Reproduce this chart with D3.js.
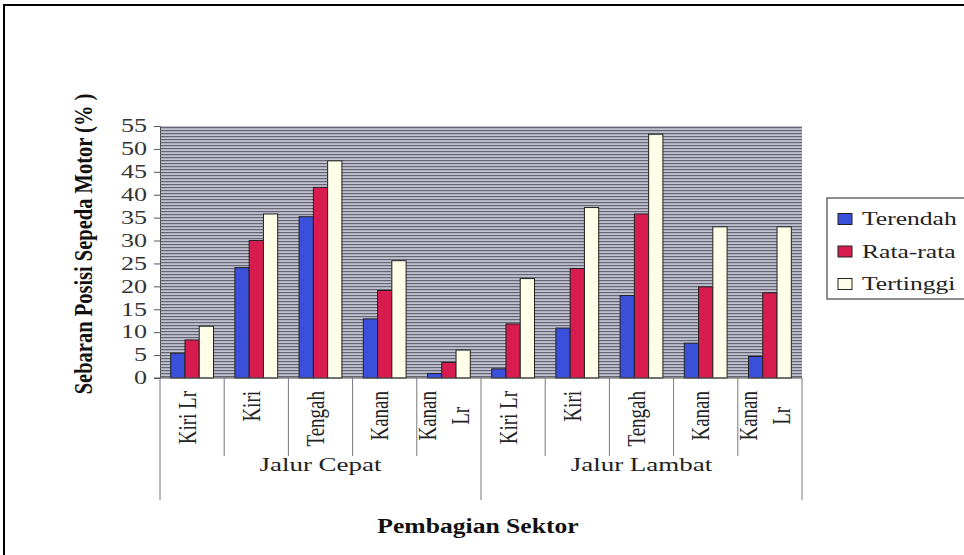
<!DOCTYPE html>
<html><head><meta charset="utf-8">
<script src="https://cdn.jsdelivr.net/npm/d3@7"></script>
<style>body{margin:0;background:#fff}svg{display:block}</style>
</head><body>
<svg id="c" width="964" height="555"></svg>
<script>
const groups = ["Jalur Cepat", "Jalur Lambat"];
const categories = [
  ["Kiri Lr"], ["Kiri"], ["Tengah"], ["Kanan"], ["Kanan", "Lr"],
  ["Kiri Lr"], ["Kiri"], ["Tengah"], ["Kanan"], ["Kanan", "Lr"]
];
const seriesNames = ["Terendah", "Rata-rata", "Tertinggi"];
const terendah  = [5.4, 24.1, 35.2, 12.9, 1.0, 2.0, 10.9, 18.0, 7.6, 4.7];
const rataRata  = [8.3, 30.0, 41.6, 19.1, 3.4, 11.8, 23.9, 35.8, 19.9, 18.6];
const tertinggi = [11.3, 35.8, 47.4, 25.6, 6.1, 21.7, 37.2, 53.2, 33.0, 33.0];
const yTicks = [0, 5, 10, 15, 20, 25, 30, 35, 40, 45, 50, 55];

const series = [terendah, rataRata, tertinggi];
const colors = ["#3b50da", "#d81c50", "#fdfde8"];
const serif = "'Liberation Serif','Times New Roman',serif";

const svg = d3.select("#c");
const L = 160, R = 802, T = 126, B = 378;

function stretch(sel, f) {
  sel.each(function () {
    const w = this.getComputedTextLength();
    d3.select(this).attr("textLength", w * f).attr("lengthAdjust", "spacingAndGlyphs");
  });
}

// outer frame
svg.append("path").attr("d", "M4,555 V5 H964").attr("fill", "none").attr("stroke", "#000").attr("stroke-width", 2);

// background pattern
const defs = svg.append("defs");
const pat = defs.append("pattern").attr("id", "hl").attr("patternUnits", "userSpaceOnUse")
  .attr("width", 8).attr("height", 3);
pat.append("rect").attr("width", 8).attr("height", 3).attr("fill", "#bfc1d3");
pat.append("rect").attr("y", 1).attr("width", 8).attr("height", 1.2).attr("fill", "#65666f");

const idx = d3.range(categories.length);
const x = d3.scaleBand().domain(idx).range([L, R]).paddingInner(0).paddingOuter(0);
const y = d3.scaleLinear().domain([0, 55]).range([B, T]);
const xs = d3.scaleBand().domain(d3.range(3)).range([0, x.bandwidth()]).paddingInner(0).paddingOuter(0.75);

svg.append("rect").attr("x", L).attr("y", T).attr("width", R - L).attr("height", B - T).attr("fill", "url(#hl)");

// bars
idx.forEach(i => {
  const g = svg.append("g").attr("transform", `translate(${x(i)},0)`);
  series.forEach((s, k) => {
    g.append("rect").attr("x", xs(k)).attr("y", y(s[i])).attr("width", xs.bandwidth())
      .attr("height", B - y(s[i])).attr("fill", colors[k]).attr("stroke", "#222").attr("stroke-width", 1);
  });
});

// y axis
const ya = svg.append("g").attr("transform", `translate(${L},0)`)
  .call(d3.axisLeft(y).tickValues(yTicks).tickSize(6).tickPadding(7));
ya.select(".domain").attr("stroke", "#555");
ya.selectAll(".tick line").attr("stroke", "#555");
ya.selectAll("text").attr("font-family", serif).attr("font-size", 18).attr("fill", "#333");
stretch(ya.selectAll("text"), 1.45);

// x axis baseline
svg.append("line").attr("x1", L - 6).attr("x2", R).attr("y1", B).attr("y2", B).attr("stroke", "#555");

// category dividers
idx.forEach(i => {
  if (i % 5 !== 0) {
    svg.append("line").attr("x1", x(i)).attr("x2", x(i)).attr("y1", B).attr("y2", 456).attr("stroke", "#777");
  }
});
[0, 5, 10].forEach(i => {
  const xx = i < 10 ? x(i) : R;
  svg.append("line").attr("x1", xx).attr("x2", xx).attr("y1", B).attr("y2", 500).attr("stroke", "#777");
});

// category labels
idx.forEach(i => {
  const lines = categories[i];
  const cx = x(i) + x.bandwidth() / 2 - 5;
  const n = lines.length;
  const texts = lines.map((t, j) => {
    const off = (j - (n - 1) / 2) * 33;
    return svg.append("text").attr("font-family", serif).attr("font-size", 19).attr("fill", "#222")
      .attr("dominant-baseline", "central")
      .text(t).attr("data-off", off);
  });
  const maxLen = d3.max(texts, t => t.node().getComputedTextLength());
  texts.forEach(t => {
    const off = +t.attr("data-off");
    const ty = 391 + maxLen / 2;
    t.attr("text-anchor", "middle")
      .attr("transform", `translate(${cx + off},${ty}) rotate(-90) scale(1,1.3)`);
  });
});

// group labels
groups.forEach((gname, gi) => {
  const gx = (x(gi * 5) + (gi === 0 ? x(5) : R)) / 2;
  const t = svg.append("text").attr("x", gx).attr("y", 471).attr("text-anchor", "middle")
    .attr("font-family", serif).attr("font-size", 19).attr("fill", "#222").text(gname);
  stretch(t, 1.42);
});

// axis titles
const xt = svg.append("text").attr("x", 478).attr("y", 533).attr("text-anchor", "middle")
  .attr("font-family", serif).attr("font-size", 20).attr("font-weight", "bold").attr("fill", "#111")
  .text("Pembagian Sektor");
stretch(xt, 1.28);
svg.append("text").attr("transform", "translate(83,244) rotate(-90) scale(1,1.25)").attr("text-anchor", "middle")
  .attr("dominant-baseline", "central")
  .attr("font-family", serif).attr("font-size", 20.5).attr("font-weight", "bold").attr("fill", "#111")
  .text("Sebaran Posisi Sepeda Motor (% )");

// legend
const lg = svg.append("g");
lg.append("rect").attr("x", 827).attr("y", 198).attr("width", 150).attr("height", 101)
  .attr("fill", "#fff").attr("stroke", "#444").attr("stroke-width", 1.2);
seriesNames.forEach((nm, k) => {
  const ly = 219 + k * 32.5;
  lg.append("rect").attr("x", 838).attr("y", ly - 5.5).attr("width", 14).attr("height", 11)
    .attr("fill", colors[k]).attr("stroke", "#222");
  const t = lg.append("text").attr("x", 862).attr("y", ly).attr("dominant-baseline", "central")
    .attr("font-family", serif).attr("font-size", 18).attr("fill", "#222").text(nm);
  stretch(t, 1.42);
});
</script>
</body></html>
